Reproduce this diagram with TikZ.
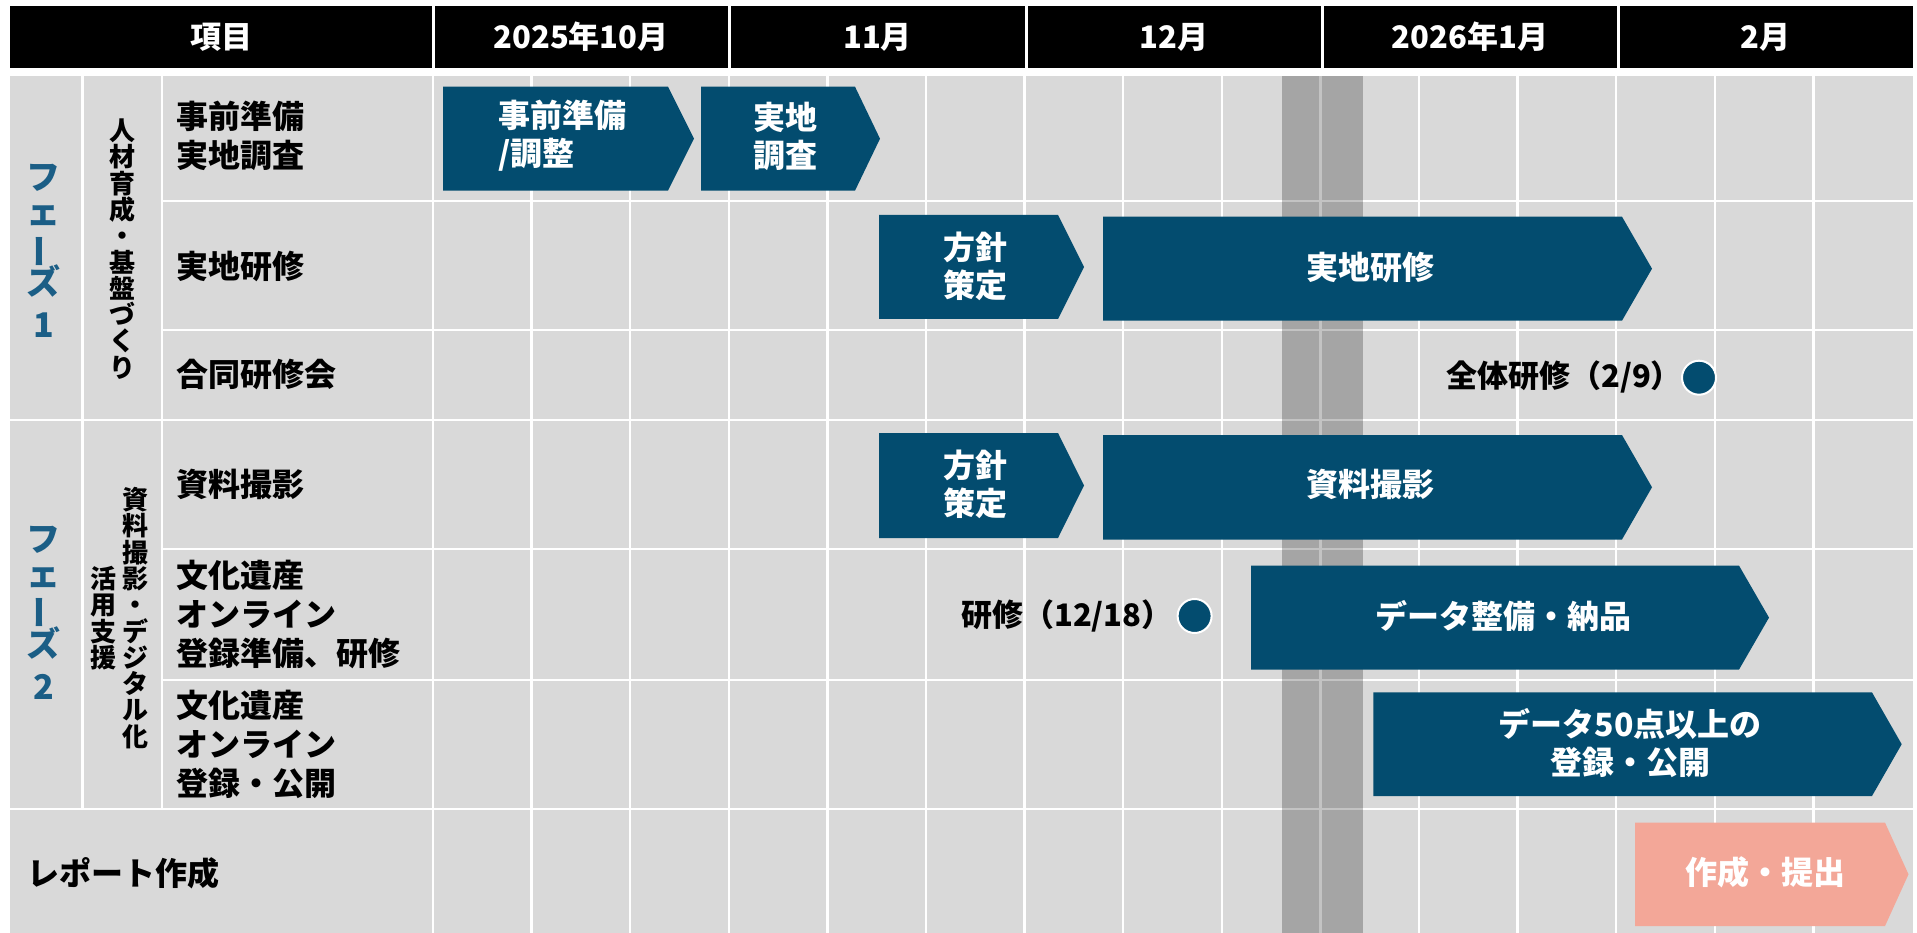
\documentclass[tikz,border=0pt]{standalone}
\usepackage{fontspec}
\setmainfont{Noto Sans CJK JP}
\usepackage{graphicx}
\definecolor{barblue}{RGB}{3,76,111}
\definecolor{phaseblue}{RGB}{27,94,134}
\definecolor{salmon}{RGB}{243,167,152}
\definecolor{bggray}{RGB}{217,217,217}
\newcommand{\gbar}[6]{\fill[#6] (#1,#4) -- (#2,#4) -- (#3,{(#4+#5)/2}) -- (#2,#5) -- (#1,#5) -- cycle;}
\newcommand{\vlong}{{\rotatebox[origin=c]{90}{ー}}}
\lineskiplimit=-40pt
\begin{document}
\begin{tikzpicture}[x=1pt,y=-1pt,
  lbl/.style={font=\fontsize{32}{39}\selectfont\bfseries, inner sep=0, align=left, anchor=west},
  bartxt/.style={font=\fontsize{32}{38}\selectfont\bfseries, text=white, inner sep=0, align=center},
  hdr/.style={font=\fontsize{31}{31}\selectfont\bfseries, text=white, inner sep=0},
  vt/.style={font=\fontsize{26}{26.3}\selectfont\bfseries, inner sep=0, align=center},
  phase/.style={font=\fontsize{34}{35}\selectfont\bfseries, text=phaseblue, inner sep=0, align=center},
  ms/.style={font=\fontsize{31}{31}\selectfont\bfseries, inner sep=0, anchor=west},
  gridline/.style={white, line width=2.4pt},
  hdrline/.style={white, line width=3pt},
  dot/.style={circle, fill=barblue, draw=white, line width=2pt, minimum size=34pt, inner sep=0}]
\useasboundingbox (0,0) rectangle (1917,933);
% header
\fill[black] (10,6) rectangle (1913,68);
\foreach \x in {433,729.5,1026,1322,1618} \draw[hdrline] (\x,6) -- (\x,68);
\node[hdr] (h0) at (221.5,37) {項目};
\node[hdr] (h1) at (581,37) {2025年10月};
\node[hdr] (h2) at (877.5,37) {11月};
\node[hdr] (h3) at (1174,37) {12月};
\node[hdr] (h4) at (1470,37) {2026年1月};
\node[hdr] (h5) at (1765.5,37) {2月};
% body background and grid
\fill[bggray] (10,76) rectangle (1913,933);
\foreach \y in {201,330,549,680} \draw[gridline] (162,\y) -- (1913,\y);
\foreach \y in {420,809} \draw[gridline] (10,\y) -- (1913,\y);
\draw[gridline] (82.6,76) -- (82.6,809);
\draw[gridline] (162,76) -- (162,809);
\foreach \k in {0,...,14} \draw[gridline] ({433+\k*98.6},76) -- ({433+\k*98.6},933);
% holiday band
\fill[black, opacity=0.235] (1282,76) rectangle (1363,933);
% phase labels
\node[phase] (p1) at (44,251) {フ\\ェ\\\vlong\\ズ\\[8pt]1};
\node[phase] (p2) at (44,612.5) {フ\\ェ\\\vlong\\ズ\\[8pt]2};
\node[vt] (g1) at (122,249) {人\\材\\育\\成\\・\\基\\盤\\づ\\く\\り};
\node[vt] (g2a) at (135,618) {資\\料\\撮\\影\\・\\デ\\ジ\\タ\\ル\\化};
\node[vt] (g2b) at (103,618) {活\\用\\支\\援};
% row labels
\node[lbl] (r1) at (176,136) {事前準備\\実地調査};
\node[lbl] (r2) at (176,266) {実地研修};
\node[lbl] (r3) at (176,374) {合同研修会};
\node[lbl] (r4) at (176,484) {資料撮影};
\node[lbl] (r5) at (176,614) {文化遺産\\オンライン\\登録準備、研修};
\node[lbl] (r6) at (176,744) {文化遺産\\オンライン\\登録・公開};
\node[lbl] (r7) at (27,873) {レポート作成};
% bars
\gbar{443}{668}{694}{86.7}{190.7}{barblue}
\node[bartxt, align=left] (b1) at (562,136) {事前準備\\/調整};
\gbar{701}{855}{880}{86.7}{190.7}{barblue}
\node[bartxt] (b2) at (785,136) {実地\\調査};
\gbar{879}{1058}{1084}{215}{319}{barblue}
\node[bartxt] (b3) at (975,266) {方針\\策定};
\gbar{1103}{1622}{1652}{216.7}{320.7}{barblue}
\node[bartxt] (b4) at (1370,267) {実地研修};
\gbar{879}{1058}{1084}{433}{538}{barblue}
\node[bartxt] (b5) at (975,484) {方針\\策定};
\gbar{1103}{1622}{1652}{435}{539.5}{barblue}
\node[bartxt] (b6) at (1370,484) {資料撮影};
\gbar{1251}{1739}{1769}{565.6}{669.6}{barblue}
\node[bartxt] (b7) at (1503,616) {データ整備・納品};
\gbar{1373.4}{1872}{1901.7}{692.4}{796}{barblue}
\node[bartxt] (b8) at (1630,743) {データ50点以上の\\登録・公開};
\gbar{1635}{1885}{1908.5}{822.6}{926}{salmon}
\node[bartxt] (b9) at (1765,872) {作成・提出};
% milestones
\node[ms] (m1t) at (1446,377) {全体研修（2/9）};
\node[dot] (m1) at (1699,377.7) {};
\node[ms] (m2t) at (961,616) {研修（12/18）};
\node[dot] (m2) at (1194.6,616) {};
\end{tikzpicture}
\end{document}
